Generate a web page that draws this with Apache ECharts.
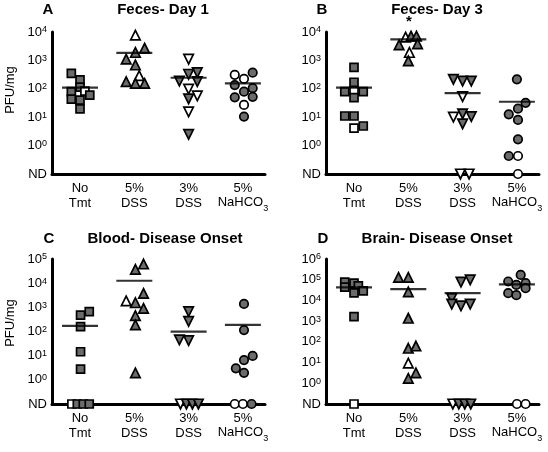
<!DOCTYPE html>
<html><head><meta charset="utf-8">
<script src="https://cdn.jsdelivr.net/npm/echarts@6/dist/echarts.min.js"></script>
<style>html,body{margin:0;padding:0;background:#fff}#c{width:548px;height:452px}</style>
</head><body><div id="c"></div>
<script>
// ---------- categories / labels ----------
const categories = ['No\nTmt', '5%\nDSS', '3%\nDSS', '5%\n{b|NaHCO}{sub|3}'];
const ndLabel = 'ND';
const panelLetters = ['A', 'B', 'C', 'D'];
const panelTitles = ['Feces- Day 1', 'Feces- Day 3', 'Blood- Disease Onset', 'Brain- Disease Onset'];
const panelMaxExp = [4, 4, 5, 6];
const yAxisName = 'PFU/mg';

// ---------- data (PFU/mg, 0 = not detected) ----------
// Panel A: Feces- Day 1
const a_noTmt = [352, 205, 115, 79, 83, 60, 43, 40, 19.6];
const a_noTmt_dx = [-0.16, 0, 0, -0.16, 0.09, 0.18, -0.16, 0, 0];
const a_noTmt_open = [0, 0, 0, 0, 1, 0, 0, 0, 0];
const a_dss5 = [7800, 2700, 1900, 1100, 690, 290, 178, 155, 155];
const a_dss5_dx = [0.02, 0.19, 0.02, -0.15, 0.02, 0.09, -0.15, 0.02, 0.19];
const a_dss5_open = [1, 0, 0, 0, 0, 1, 0, 0, 0];
const a_dss3 = [1100, 370, 325, 187, 178, 98, 56, 44, 15.5, 2.5];
const a_dss3_dx = [0, 0.16, 0, -0.17, 0.16, 0, 0.16, 0, 0, 0];
const a_dss3_open = [1, 0, 0, 0, 0, 1, 1, 0, 1, 0];
const a_nahco3 = [310, 225, 370, 135, 79, 105, 50, 52, 27, 10.5];
const a_nahco3_dx = [-0.15, 0.02, 0.18, -0.15, 0.02, 0.18, -0.15, 0.18, 0.02, 0.02];
const a_nahco3_open = [1, 1, 0, 0, 0, 0, 0, 0, 1, 0];
const a_means = [110, 1850, 245, 155];

// Panel B: Feces- Day 3
const b_noTmt = [570, 170, 79, 85, 79, 49, 11, 11, 4.1, 4.9];
const b_noTmt_dx = [0, 0, -0.17, 0, 0.17, 0, -0.17, 0, 0, 0.17];
const b_noTmt_open = [0, 0, 0, 1, 0, 0, 0, 0, 1, 0];
const b_dss5 = [10500, 6600, 7200, 7200, 3500, 3800, 1900, 960];
const b_dss5_dx = [-0.09, -0.05, 0.05, 0.15, -0.17, 0.17, 0.02, 0];
const b_dss5_open = [0, 1, 0, 0, 0, 0, 1, 0];
const b_dss3 = [215, 187, 187, 53, 10, 13, 10.5, 5.8, 0, 0];
const b_dss3_dx = [-0.17, 0, 0.16, 0, -0.17, 0, 0.16, 0, -0.04, 0.12];
const b_dss3_open = [0, 0, 0, 1, 1, 0, 0, 0, 1, 1];
const b_nahco3 = [215, 32, 20, 12.6, 8, 1.66, 0.43, 0.43, 0];
const b_nahco3_dx = [0, 0.16, 0.02, -0.15, 0.02, 0.02, -0.15, 0.02, 0.02];
const b_nahco3_open = [0, 0, 0, 0, 0, 0, 0, 1, 1];
const b_means = [110, 5500, 70, 35];

// Panel C: Blood- Disease Onset
const c_noTmt = [660, 480, 160, 14.5, 2.8, 0, 0, 0, 0];
const c_noTmt_dx = [0.17, 0.01, 0.01, 0.01, 0.01, -0.15, -0.05, 0.06, 0.17];
const c_noTmt_open = [0, 0, 0, 0, 0, 1, 0, 0, 0];
const c_dss5 = [62000, 37000, 3800, 1860, 1550, 910, 450, 187, 1.95];
const c_dss5_dx = [0.17, 0.02, 0.17, -0.15, 0.02, 0.17, 0.02, 0.02, 0.02];
const c_dss5_open = [0, 0, 0, 1, 0, 0, 0, 0, 0];
const c_dss3 = [660, 260, 45, 42, 0, 0, 0, 0];
const c_dss3_dx = [0, 0, -0.17, 0, -0.15, -0.04, 0.07, 0.18];
const c_dss3_open = [0, 0, 0, 0, 1, 0, 0, 0];
const c_nahco3 = [1380, 115, 9.8, 6.6, 3.0, 1.95, 0, 0, 0];
const c_nahco3_dx = [0.02, 0.02, 0.18, 0.02, -0.13, 0.02, -0.15, 0, 0.16];
const c_nahco3_open = [0, 0, 0, 0, 0, 0, 1, 1, 0];
const c_means = [170, 12600, 98, 187];

// Panel D: Brain- Disease Onset
const d_noTmt = [76000, 68000, 50000, 44000, 23000, 29000, 1650, 0];
const d_noTmt_dx = [-0.17, 0, 0.08, -0.17, 0, 0.17, 0, 0];
const d_noTmt_open = [0, 0, 0, 0, 0, 0, 0, 1];
const d_dss5 = [130000, 130000, 26000, 1380, 49, 63, 9.3, 1.74, 3.2];
const d_dss5_dx = [-0.18, 0, 0, 0, 0, 0.14, 0, 0, 0.14];
const d_dss5_open = [0, 0, 0, 0, 0, 0, 1, 0, 0];
const d_dss3 = [76000, 98000, 12600, 6700, 5400, 6700, 0, 0, 0, 0];
const d_dss3_dx = [-0.03, 0.14, -0.2, -0.2, -0.03, 0.14, -0.18, -0.07, 0.04, 0.15];
const d_dss3_open = [0, 0, 0, 0, 0, 0, 1, 0, 0, 0];
const d_nahco3 = [170000, 82000, 56000, 68000, 39000, 22500, 18000, 0, 0];
const d_nahco3_dx = [0.07, -0.16, -0.01, 0.16, 0.16, -0.16, -0.01, 0, 0.16];
const d_nahco3_open = [0, 0, 0, 0, 0, 0, 0, 1, 1];
const d_means = [43000, 35000, 22500, 60000];

const panels = [
  {groups: [[a_noTmt, a_noTmt_dx, a_noTmt_open], [a_dss5, a_dss5_dx, a_dss5_open], [a_dss3, a_dss3_dx, a_dss3_open], [a_nahco3, a_nahco3_dx, a_nahco3_open]], means: a_means},
  {groups: [[b_noTmt, b_noTmt_dx, b_noTmt_open], [b_dss5, b_dss5_dx, b_dss5_open], [b_dss3, b_dss3_dx, b_dss3_open], [b_nahco3, b_nahco3_dx, b_nahco3_open]], means: b_means},
  {groups: [[c_noTmt, c_noTmt_dx, c_noTmt_open], [c_dss5, c_dss5_dx, c_dss5_open], [c_dss3, c_dss3_dx, c_dss3_open], [c_nahco3, c_nahco3_dx, c_nahco3_open]], means: c_means},
  {groups: [[d_noTmt, d_noTmt_dx, d_noTmt_open], [d_dss5, d_dss5_dx, d_dss5_open], [d_dss3, d_dss3_dx, d_dss3_open], [d_nahco3, d_nahco3_dx, d_nahco3_open]], means: d_means}
];

// ---------- layout / style ----------
const FONT = '"Liberation Sans", Arial, Helvetica, sans-serif';
const GRAY = '#6b6b6b';
const gridRects = [
  {left: 52, top: 32, width: 213, height: 142},
  {left: 326, top: 32, width: 213, height: 142},
  {left: 52, top: 259, width: 213, height: 145},
  {left: 326, top: 259, width: 213, height: 145}
];
const titlePos = [[48, 10, 163, 10], [322, 10, 437, 10], [49, 239, 165, 239], [323, 239, 437, 239]];
const symbols = [
  {symbol: 'rect', size: 8, rotate: 0},
  {symbol: 'triangle', size: 9.5, rotate: 0},
  {symbol: 'triangle', size: 9.5, rotate: 180},
  {symbol: 'circle', size: 8.5, rotate: 0}
];
const toY = v => (v > 0 ? Math.log10(v) : -1);

const grid = [], xAxis = [], yAxis = [], series = [], graphic = [];
panels.forEach((p, pi) => {
  grid.push(Object.assign({containLabel: false}, gridRects[pi]));
  xAxis.push({
    type: 'value', gridIndex: pi, min: -0.516, max: 3.407,
    axisLine: {show: true, onZero: false, lineStyle: {color: '#000', width: 3}},
    axisTick: {show: false}, splitLine: {show: false},
    axisLabel: {
      customValues: [0, 1, 2, 3], margin: 7,
      formatter: v => categories[Math.round(v)],
      color: '#000', fontFamily: FONT, fontSize: 13, lineHeight: 15,
      rich: {
        b: {fontFamily: FONT, fontSize: 13, lineHeight: 15, color: '#000', verticalAlign: 'top'},
        sub: {fontFamily: FONT, fontSize: 9, lineHeight: 9, color: '#000', padding: [8, 0, 0, 0], verticalAlign: 'top'}
      }
    }
  });
  yAxis.push({
    type: 'value', gridIndex: pi, min: -1, max: panelMaxExp[pi], interval: 1,
    axisLine: {show: true, onZero: false, lineStyle: {color: '#000', width: 3}},
    axisTick: {show: false}, splitLine: {show: false},
    axisLabel: {
      margin: 5, color: '#000', fontFamily: FONT, fontSize: 13,
      formatter: v => (v === -1 ? ndLabel : '{b|10}{sup|' + v + '}'),
      rich: {
        b: {fontFamily: FONT, fontSize: 13, lineHeight: 13, color: '#000', verticalAlign: 'bottom'},
        sup: {fontFamily: FONT, fontSize: 9, lineHeight: 9, color: '#000', padding: [0, 0, 7, 0], verticalAlign: 'top'}
      }
    }
  });
  p.groups.forEach((g, gi) => {
    const [vals, dx, open] = g;
    series.push({
      type: 'scatter', xAxisIndex: pi, yAxisIndex: pi,
      symbol: symbols[gi].symbol, symbolSize: symbols[gi].size, symbolRotate: symbols[gi].rotate,
      data: vals.map((v, k) => ({value: [gi + dx[k], toY(v)], itemStyle: {color: open[k] ? '#fff' : GRAY}})),
      itemStyle: {borderColor: '#000', borderWidth: 1.7, opacity: 1},
      emphasis: {disabled: true}, z: 3
    });
  });
  series.push({
    type: 'scatter', xAxisIndex: pi, yAxisIndex: pi,
    symbol: 'rect', symbolSize: [36, 2.2],
    data: p.means.map((m, gi) => [gi, toY(m)]),
    itemStyle: {color: '#000'}, emphasis: {disabled: true}, z: 5
  });
  const tp = titlePos[pi];
  graphic.push({type: 'text', x: tp[0], y: tp[1], style: {text: panelLetters[pi], font: 'bold 15px ' + FONT, fill: '#000', align: 'center', verticalAlign: 'middle'}});
  graphic.push({type: 'text', x: tp[2], y: tp[3], style: {text: panelTitles[pi], font: 'bold 15px ' + FONT, fill: '#000', align: 'center', verticalAlign: 'middle'}});
});
// y-axis names on left panels
graphic.push({type: 'text', x: 10, y: 90, rotation: Math.PI / 2, style: {text: yAxisName, font: '13px ' + FONT, fill: '#000', align: 'center', verticalAlign: 'middle'}});
graphic.push({type: 'text', x: 10, y: 323, rotation: Math.PI / 2, style: {text: yAxisName, font: '13px ' + FONT, fill: '#000', align: 'center', verticalAlign: 'middle'}});
// significance marker in panel B
graphic.push({type: 'text', x: 409, y: 22, style: {text: '*', font: 'bold 15px ' + FONT, fill: '#000', align: 'center', verticalAlign: 'middle'}});

const chart = echarts.init(document.getElementById('c'), null, {renderer: 'canvas'});
chart.setOption({animation: false, backgroundColor: '#fff', grid, xAxis, yAxis, series, graphic});
</script></body></html>
